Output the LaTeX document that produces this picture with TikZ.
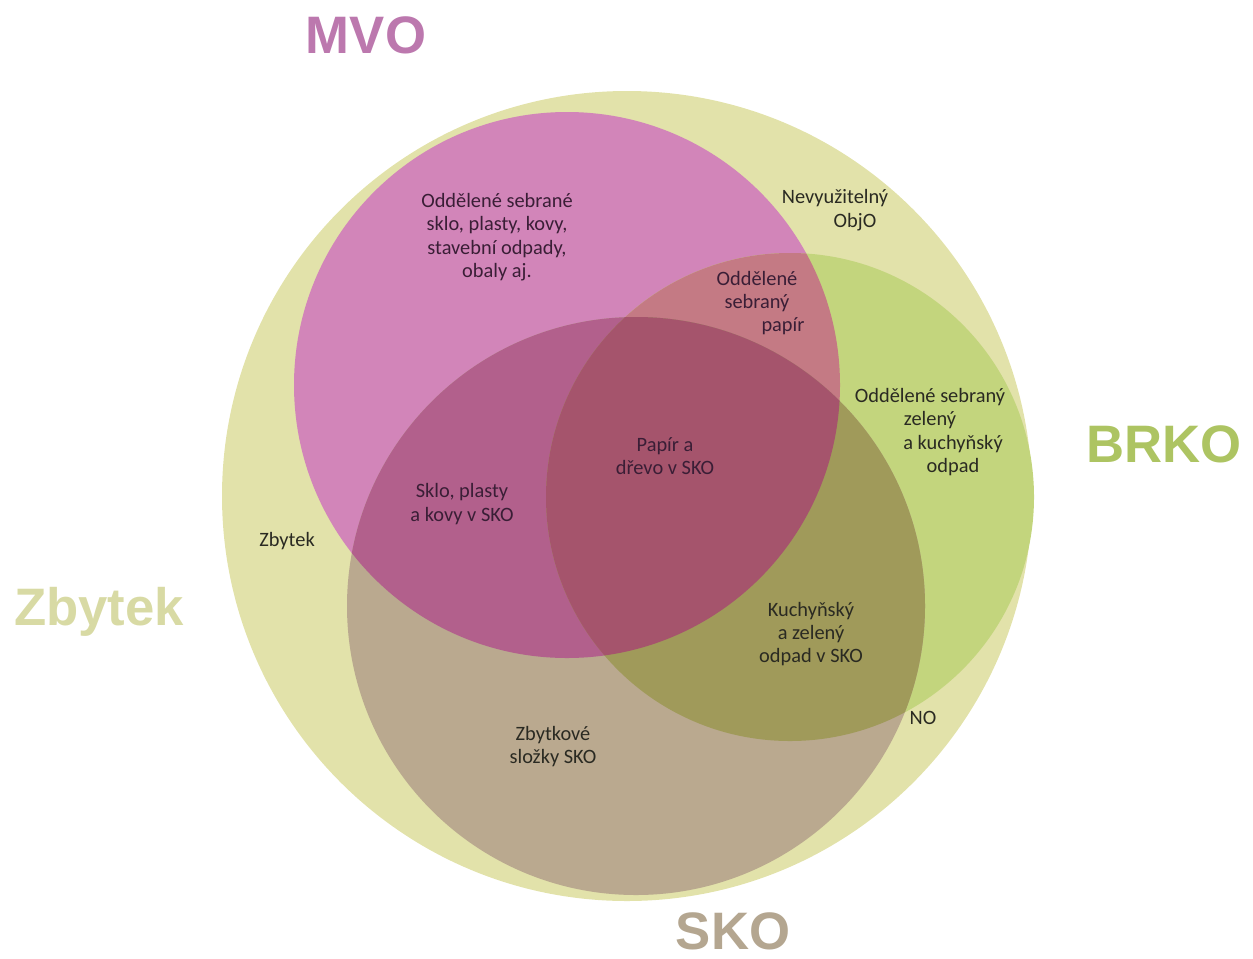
\documentclass[tikz,border=0pt]{standalone}
\usepackage{fontspec}
\usepackage{xcolor}
\usepackage{tikz}
\setmainfont{Carlito}
\newfontfamily\headfont{Liberation Sans}

\definecolor{zbytekfill}{HTML}{E2E2AA}
\definecolor{mvofill}{HTML}{D285B9}
\definecolor{brkofill}{HTML}{C3D57D}
\definecolor{skofill}{HTML}{BAA98F}
\definecolor{mvobrko}{HTML}{C47A84}
\definecolor{mvosko}{HTML}{B2608C}
\definecolor{brkosko}{HTML}{A09A5A}
\definecolor{allthree}{HTML}{A5546C}
\definecolor{mvohead}{HTML}{BC78AE}
\definecolor{brkohead}{HTML}{ADC462}
\definecolor{zbytekhead}{HTML}{D8DAA4}
\definecolor{skohead}{HTML}{B4A690}
\definecolor{txtdark}{HTML}{2A2A22}
\definecolor{txtplum}{HTML}{3A1E36}

\begin{document}
\begin{tikzpicture} [
	lbl/.style = {align = center, text = txtdark, inner sep = 0pt, font = \fontsize{11.6}{13.3}\selectfont},
	plum/.style = {lbl, text = txtplum},
	head/.style = {anchor = base, inner sep = 0pt, font = \headfont\bfseries\fontsize{30}{30}\selectfont}
]
	\useasboundingbox (0,0) rectangle (25.06,-19.16);
	\coordinate (zbytek) at (12.54,-9.92);
	\coordinate (mvo) at (11.34,-7.7);
	\coordinate (brko) at (15.8,-9.94);
	\coordinate (sko) at (12.72,-12.12);

	% the four sets
	\fill [zbytekfill] (zbytek) circle (8.1);
	\fill [mvofill] (mvo) circle (5.46);
	\fill [brkofill] (brko) circle (4.88);
	\fill [skofill] (sko) circle (5.78);

	% overlaps, each clipped to the first circle
	\begin{scope}
		\clip (mvo) circle (5.46);
		\fill [mvobrko] (brko) circle (4.88);
		\fill [mvosko] (sko) circle (5.78);
	\end{scope}
	\begin{scope}
		\clip (brko) circle (4.88);
		\fill [brkosko] (sko) circle (5.78);
		\clip (mvo) circle (5.46);
		\fill [allthree] (sko) circle (5.78);
	\end{scope}

	% set names
	\node [head, text = mvohead] (mvoname) at (7.32,-1.06) {MVO};
	\node [head, text = brkohead] (brkoname) at (23.28,-9.24) {BRKO};
	\node [head, text = zbytekhead] (zbytekname) at (1.98,-12.5) {Zbytek};
	\node [head, text = skohead] (skoname) at (14.66,-18.98) {SKO};

	% regions
	\node [plum] (sorted) at (9.94,-4.74) {Oddělené sebrané\\sklo, plasty, kovy,\\stavební odpady,\\obaly aj.};
	\node [lbl] (objo) at (16.7,-4.2) {Nevyužitelný\\\hspace*{0.8cm}ObjO};
	\node [plum] (papir) at (15.14,-6.06) {Oddělené\\sebraný\\\hspace*{1.04cm}papír};
	\node [lbl] (zeleny) at (18.6,-8.64) {Oddělené sebraný\\zelený\\\hspace*{0.92cm}a kuchyňský\\\hspace*{0.92cm}odpad};
	\node [plum] (drevo) at (13.3,-9.12) {Papír a\\dřevo v SKO};
	\node [plum] (sklo) at (9.24,-10.08) {Sklo, plasty\\a kovy v SKO};
	\node [lbl] (zbytek) at (5.74,-10.82) {Zbytek};
	\node [lbl] (kuchyn) at (16.22,-12.68) {Kuchyňský\\a zelený\\odpad v SKO};
	\node [lbl] (zbytkove) at (11.06,-14.93) {Zbytkové\\složky SKO};
	\node [lbl] (no) at (18.46,-14.36) {NO};
\end{tikzpicture}
\end{document}
